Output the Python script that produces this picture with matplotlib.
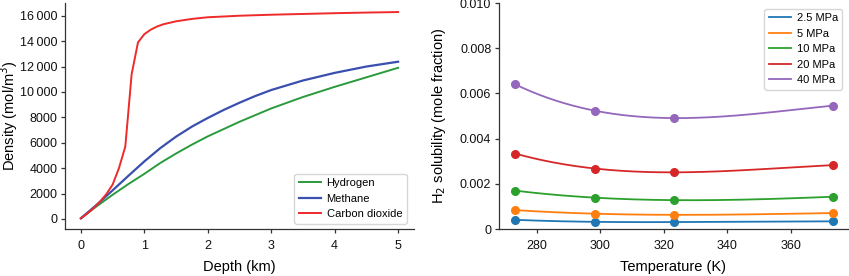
import numpy as np
import matplotlib
matplotlib.use("Agg")
import matplotlib.pyplot as plt
from matplotlib.ticker import FuncFormatter

plt.rcParams['font.family'] = ['Liberation Sans', 'DejaVu Sans']

# ---- Left panel data: density vs depth ----
depth_h2 = [0, 0.25, 0.5, 0.75, 1.0, 1.25, 1.5, 1.75, 2.0, 2.5, 3.0, 3.5, 4.0, 4.5, 5.0]
dens_h2 = [50, 1000, 1900, 2750, 3550, 4400, 5150, 5850, 6500, 7650, 8700, 9600, 10400, 11150, 11900]
depth_ch4 = [0, 0.25, 0.5, 0.75, 1.0, 1.25, 1.5, 1.75, 2.0, 2.25, 2.5, 2.75, 3.0, 3.5, 4.0, 4.5, 5.0]
dens_ch4 = [50, 1120, 2250, 3400, 4530, 5570, 6480, 7270, 7950, 8580, 9150, 9680, 10150, 10900, 11500, 12000, 12380]
depth_co2 = [0, 0.1, 0.2, 0.3, 0.4, 0.5, 0.6, 0.7, 0.8, 0.9, 1.0, 1.1, 1.2,
             1.3, 1.5, 1.75, 2.0, 2.5, 3.0, 3.5, 4.0, 4.5, 5.0]
dens_co2 = [50, 420, 850, 1350, 1950, 2700, 4000, 5700, 11400, 13900, 14550,
            14900, 15150, 15330, 15560, 15750, 15880, 16000, 16080, 16140,
            16200, 16250, 16290]

# ---- Right panel data: H2 solubility vs temperature ----
temps = [273.15, 298.15, 323.15, 373.15]
pressures = ['2.5 MPa', '5 MPa', '10 MPa', '20 MPa', '40 MPa']
sol_2_5 = [0.00041, 0.00032, 0.00031, 0.00034]
sol_5 = [0.00084, 0.00068, 0.00063, 0.00071]
sol_10 = [0.00170, 0.00139, 0.00128, 0.00143]
sol_20 = [0.00334, 0.00268, 0.00251, 0.00283]
sol_40 = [0.00640, 0.00524, 0.00491, 0.00546]

fig = plt.figure(figsize=(8.49, 2.76), dpi=100)
ax1 = fig.add_axes([0.0766, 0.170, 0.411, 0.819])
ax2 = fig.add_axes([0.5877, 0.170, 0.411, 0.819])

spine_col = '#333333'
for ax in (ax1, ax2):
    for s in ('top', 'right'):
        ax.spines[s].set_visible(False)
    for s in ('left', 'bottom'):
        ax.spines[s].set_color(spine_col)
        ax.spines[s].set_linewidth(0.9)
    ax.tick_params(direction='out', length=3.0, width=0.9, color=spine_col,
                   labelsize=9, labelcolor='#111111', pad=2.5)
    ax.tick_params(axis='x', pad=5)

ax1.plot(depth_h2, dens_h2, color='#2a9a3c', lw=1.4, label='Hydrogen')
ax1.plot(depth_ch4, dens_ch4, color='#3a4fae', lw=1.6, label='Methane')
ax1.plot(depth_co2, dens_co2, color='#ee2a2a', lw=1.4, label='Carbon dioxide')
ax1.set_xlim(-0.25, 5.25)
ax1.set_ylim(-800, 17000)
ax1.set_xticks([0, 1, 2, 3, 4, 5])
ax1.set_yticks(np.arange(0, 16001, 2000))


def thou(v, pos):
    v = int(round(v))
    if abs(v) >= 10000:
        return f"{v:,}".replace(",", "\u2009")
    return str(v)


ax1.yaxis.set_major_formatter(FuncFormatter(thou))
ax1.set_xlabel('Depth (km)', fontsize=10.5)
ax1.set_ylabel('Density (mol/m$^3$)', fontsize=10.5)
ax1.yaxis.set_label_coords(-0.128, 0.5)
ax1.xaxis.set_label_coords(0.5, -0.135)
ax1.legend(loc='lower right', fontsize=8, frameon=True, fancybox=True,
           edgecolor='#cccccc', handlelength=2.0, borderpad=0.4,
           labelspacing=0.5, handletextpad=0.5,
           bbox_to_anchor=(0.995, 0.0))

colors = ['#1f77b4', '#ff7f0e', '#2ca02c', '#d62728', '#9467bd']
series = [sol_2_5, sol_5, sol_10, sol_20, sol_40]
tfine = np.linspace(min(temps), max(temps), 200)
for lab, col, ys in zip(pressures, colors, series):
    coef = np.polyfit(temps, ys, 3)
    ax2.plot(tfine, np.polyval(coef, tfine), color=col, lw=1.3, label=lab)
    ax2.plot(temps, ys, 'o', color=col, ms=5.5)
ax2.set_xlim(268, 378)
ax2.set_ylim(0, 0.010)
ax2.set_xticks([280, 300, 320, 340, 360])
ax2.set_yticks([0, 0.002, 0.004, 0.006, 0.008, 0.010])
ax2.set_yticklabels(['0', '0.002', '0.004', '0.006', '0.008', '0.010'])
ax2.set_xlabel('Temperature (K)', fontsize=10.5)
ax2.set_ylabel('H$_2$ solubility (mole fraction)', fontsize=10.5)
ax2.yaxis.set_label_coords(-0.145, 0.5)
ax2.xaxis.set_label_coords(0.5, -0.135)
ax2.legend(loc='upper right', fontsize=8, frameon=True, fancybox=True,
           edgecolor='#cccccc', handlelength=2.0, borderpad=0.4,
           labelspacing=0.5, handletextpad=0.5,
           bbox_to_anchor=(1.0, 1.0))

fig.savefig('out.png', dpi=100)
